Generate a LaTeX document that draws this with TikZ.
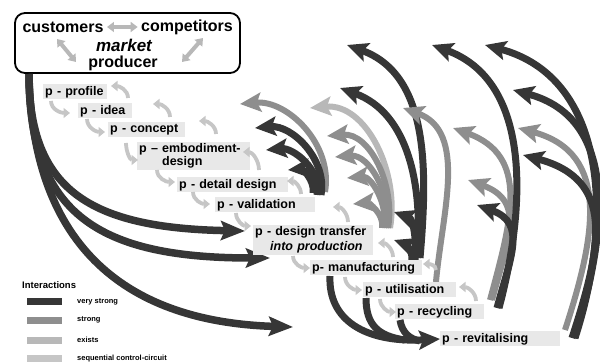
\documentclass[tikz,border=0pt]{standalone}
\usepackage{fontspec}
\setmainfont{Liberation Sans}
\usetikzlibrary{arrows.meta}
\definecolor{vsc}{HTML}{363636}
\definecolor{stc}{HTML}{8E8E8E}
\definecolor{exc}{HTML}{B8B8B8}
\definecolor{sqc}{HTML}{C6C6C6}
\definecolor{lblbg}{HTML}{E8E8E8}
\begin{document}
\begin{tikzpicture}[x=1pt,y=1pt,
  big/.style={line width=#1, -{Stealth[length=21pt,width=19pt,inset=4pt]}},
  vstrong/.style={draw=vsc, big=7pt},
  strongc/.style={draw=stc, big=6pt},
  existsc/.style={draw=exc, big=6pt},
  vline/.style={draw=vsc, line width=7pt},
  leftarr/.style={draw=vsc, line width=7.5pt, -{Stealth[length=24pt,width=19pt,inset=4pt]}},
  seqc/.style={draw=sqc, line width=3.8pt, -{Triangle[length=6.5pt,width=10pt]}},
  lbl/.style={fill=lblbg, anchor=west, align=left, inner xsep=2pt, inner ysep=1.5pt,
    font=\bfseries\fontsize{12.5}{13}\selectfont, minimum height=15pt},
  boxarr/.style={draw=exc, line width=4pt, {Triangle[length=7pt,width=10pt]}-{Triangle[length=7pt,width=10pt]}},
  boxtxt/.style={font=\bfseries\fontsize{16}{16}\selectfont},
  legtxt/.style={anchor=west, inner sep=0pt, font=\bfseries\fontsize{7.5}{8}\selectfont},
]
\useasboundingbox (0,0) rectangle (600,-363);

% ---- market box ----
\node[draw, line width=1.8pt, rounded corners=10pt, minimum width=225pt, minimum height=60pt, inner sep=0pt] (mbox) at (127.5,-43) {};
\node[boxtxt] (cust) at (63,-27) {customers};
\node[boxtxt] (comp) at (187,-27) {competitors};
\node[font=\bfseries\itshape\fontsize{17}{17}\selectfont, inner sep=0pt] (mkt) at (124,-45) {market};
\node[boxtxt, inner sep=0pt] (prod) at (123,-63) {producer};
\draw[boxarr] (cust.east) -- (comp.west);
\coordinate (dl1) at (57,-39); \coordinate (dl2) at (76,-62);
\coordinate (dr1) at (203,-38); \coordinate (dr2) at (182,-62);
\draw[boxarr] (dl1) -- (dl2);
\draw[boxarr] (dr1) -- (dr2);

% ---- left big arrows ----
\coordinate (stem) at (29,-74);
\coordinate (l1) at (245,-231);
\coordinate (l2) at (270,-258);
\coordinate (l3) at (293,-327);
\draw[leftarr] (stem) .. controls (29,-190) and (90,-228) .. (l1);
\draw[leftarr] (stem) .. controls (29,-215) and (100,-258) .. (l2);
\draw[leftarr] (stem) .. controls (32,-250) and (130,-322) .. (l3);

% ---- group 1 (validation) ----
\draw[strongc] (325,-192) coordinate (e1a) to[out=80,in=5] (240,-104) coordinate (t1a);
\draw[vstrong] (321,-195) coordinate (e1b) to[out=80,in=5] (255,-128) coordinate (t1b);
\draw[vstrong] (317,-195) coordinate (e1c) to[out=80,in=5] (266,-150) coordinate (t1c);
\draw[vstrong] (313,-193) coordinate (e1d) to[out=80,in=5] (288,-170) coordinate (t1d);

% ---- group 2 (design transfer) ----
\draw[existsc] (390,-228) coordinate (e2a) to[out=80,in=5] (310,-108) coordinate (t2a);
\draw[strongc] (388,-228) coordinate (e2b) to[out=80,in=5] (327,-136) coordinate (t2b);
\draw[strongc] (386,-228) coordinate (e2c) to[out=80,in=5] (335,-157) coordinate (t2c);
\draw[strongc] (384,-228) coordinate (e2d) to[out=80,in=5] (347,-178) coordinate (t2d);
\draw[strongc] (382,-228) coordinate (e2e) to[out=80,in=5] (353,-204) coordinate (t2e);

% ---- group 3 (manufacturing) ----
\draw[vstrong] (420,-258) coordinate (e3a) to[out=85,in=-20] (347,-45) coordinate (t3a);
\draw[vstrong] (417,-258) coordinate (e3b) to[out=85,in=-20] (340,-88) coordinate (t3b);
\draw[vstrong] (415,-260) coordinate (e3c) to[out=85,in=-20] (394,-212) coordinate (t3c);
\draw[vstrong] (412,-260) coordinate (e3d) to[out=85,in=-20] (394,-240) coordinate (t3d);

% ---- group 4 (utilisation) ----
\draw[strongc] (436,-282) coordinate (e4a) to[out=85,in=-20] (403,-108) coordinate (t4a);

% ---- group 5 (recycling) ----
\draw[strongc] (490,-300) coordinate (e5b) to[out=75,in=-20,looseness=1.2] (453,-128) coordinate (t5b);
\draw[strongc] (492,-300) coordinate (e5c) to[out=75,in=-20,looseness=1.3] (468,-180) coordinate (t5c);
\draw[vstrong] (499,-308) coordinate (e5a) to[out=75,in=-20] (432,-45) coordinate (t5a);
\draw[vstrong] (497,-308) coordinate (e5d) to[out=75,in=-20,looseness=1.3] (477,-205) coordinate (t5d);

% ---- group 6 (revitalising) ----
\draw[strongc] (565,-330) coordinate (e6c) to[out=72,in=-15,looseness=1.2] (518,-128) coordinate (t6c);
\draw[vstrong] (575,-338) coordinate (e6a) to[out=72,in=-15,looseness=1.05] (485,-45) coordinate (t6a);
\draw[vstrong] (574,-338) coordinate (e6b) to[out=72,in=-15,looseness=1.1] (513,-90) coordinate (t6b);
\draw[vstrong] (572,-338) coordinate (e6d) to[out=72,in=-15,looseness=1.3] (523,-155) coordinate (t6d);

% ---- labels ----
\node[lbl, text width=60pt] (n1) at (43,-92) {p - profile};
\node[lbl, text width=50pt] (n2) at (78,-111) {p - idea};
\node[lbl, text width=73pt] (n3) at (108,-130) {p - concept};
\node[lbl, text width=109pt] (n4) at (137,-156) {p -- embodiment-\\\phantom{p -- }design};
\node[lbl, text width=107pt] (n5) at (177,-185) {p - detail design};
\node[lbl, text width=96pt] (n6) at (215,-205) {p - validation};
\node[lbl, text width=116pt, font=\bfseries\fontsize{12.5}{15}\selectfont] (n7) at (253,-240) {p - design transfer\\\hspace*{15pt}\textit{into production}};
\node[lbl, text width=108pt] (n8) at (310,-268) {p- manufacturing};
\node[lbl, text width=89pt] (n9) at (363,-290) {p - utilisation};
\node[lbl, text width=85pt] (n10) at (395,-312) {p - recycling};
\node[lbl, text width=116pt] (n11) at (440,-339) {p - revitalising};

% ---- bottom arrows to revitalising ----
\coordinate (b1) at (330,-276);
\coordinate (b2) at (366,-298);
\coordinate (b3) at (400,-320);
\draw[vline] (b2) .. controls (366,-325) and (378,-336) .. (405,-340);
\draw[vline] (b3) .. controls (402,-333) and (410,-339) .. (420,-341);
\draw[vstrong] (b1) .. controls (328,-320) and (365,-343) .. (n11.west);

% ---- sequential control-circuit arrows ----
\draw[seqc] (51,-101) to[out=-90,in=180] (70,-113);
\draw[seqc] (87,-119) to[out=-90,in=180] (105,-132);
\draw[seqc] (126,-143) to[out=-90,in=180] (138,-160);
\draw[seqc] (157,-170) to[out=-90,in=180] (175,-182);
\draw[seqc] (193,-192) to[out=-90,in=180] (210,-204);
\draw[seqc] (236,-213) to[out=-90,in=180] (251,-226);
\draw[seqc] (293,-256) to[out=-90,in=180] (310,-268);
\draw[seqc] (345,-277) to[out=-90,in=180] (362,-290);
\draw[seqc] (380,-299) to[out=-90,in=180] (396,-312);

\draw[seqc] (128,-98) to[out=90,in=0] (111,-86);
\draw[seqc] (170,-117) to[out=90,in=0] (153,-104);
\draw[seqc] (216,-134) to[out=90,in=0] (199,-121);
\draw[seqc] (259,-170) to[out=90,in=0] (243,-152);
\draw[seqc] (301,-194) to[out=90,in=0] (287,-181);
\draw[seqc] (348,-222) to[out=90,in=0] (333,-207);
\draw[seqc] (393,-257) to[out=90,in=0] (378,-243);
\draw[seqc] (436,-270) to[out=90,in=0] (423,-264);
\draw[seqc] (476,-301) to[out=90,in=0] (459,-287);

% ---- legend ----
\node[anchor=west, inner sep=0pt, font=\bfseries\fontsize{9.5}{10}\selectfont] (leg) at (22,-285) {Interactions};
\fill[vsc] (27,-298) rectangle (62,-305);
\fill[stc] (27,-317) rectangle (62,-324);
\fill[exc] (27,-337) rectangle (62,-344);
\fill[sqc] (27,-355) rectangle (62,-362);
\node[legtxt] (lg1) at (77,-301.5) {very strong};
\node[legtxt] (lg2) at (77,-320) {strong};
\node[legtxt] (lg3) at (77,-340) {exists};
\node[legtxt] (lg4) at (77,-358.5) {sequential control-circuit};
\end{tikzpicture}
\end{document}
